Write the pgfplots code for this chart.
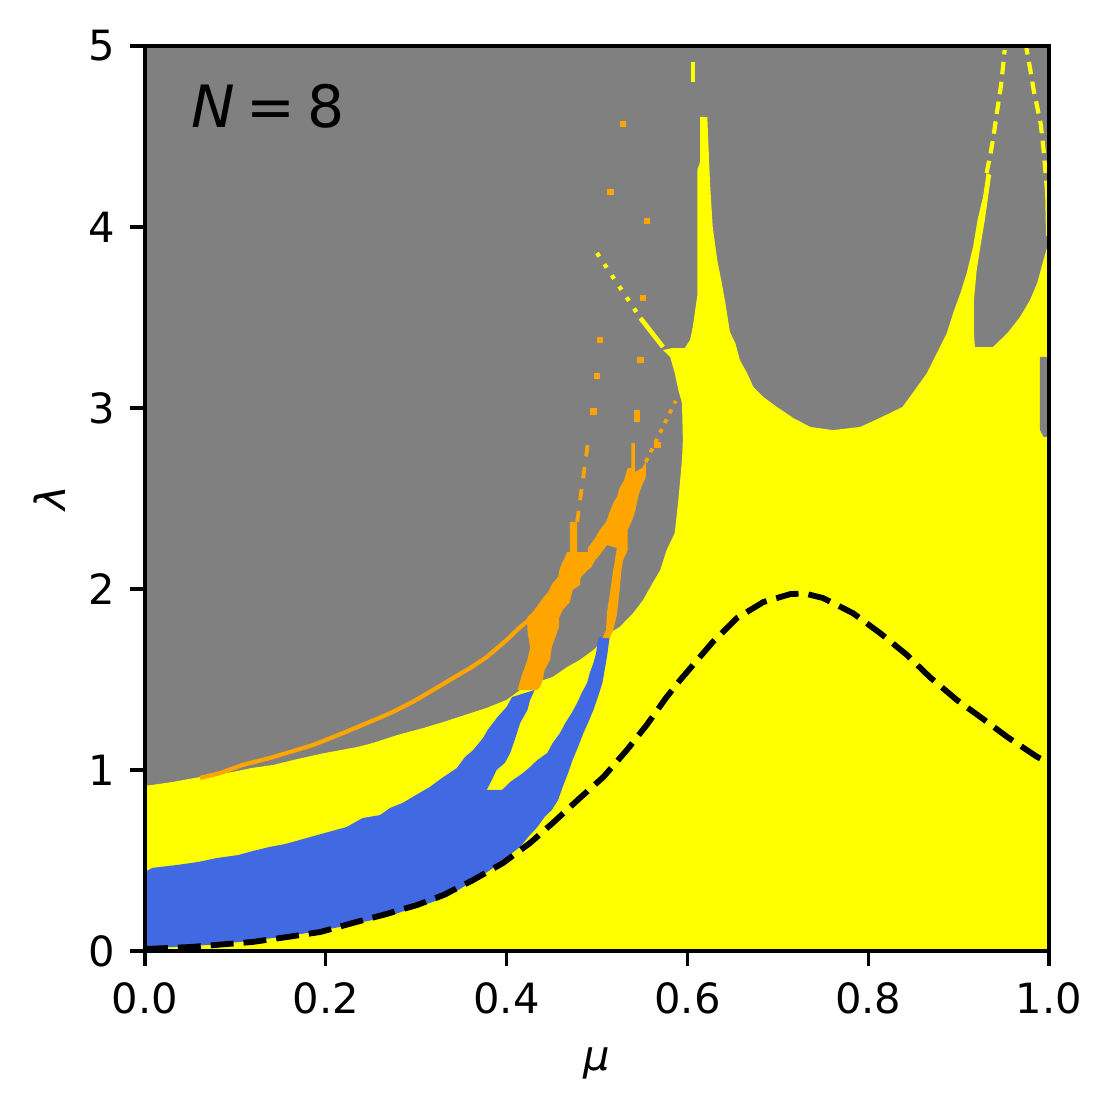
\documentclass[border=0pt]{standalone}
\usepackage{fontspec}
\setmainfont{DejaVu Sans}
\usepackage{pgfplots}
\pgfplotsset{compat=1.18}
\definecolor{mgray}{RGB}{128,128,128}
\definecolor{myellow}{RGB}{255,255,0}
\definecolor{mblue}{RGB}{65,105,225}
\definecolor{morange}{RGB}{255,165,0}
\begin{document}
\begin{tikzpicture}
\begin{axis}[
  scale only axis, width=216.96pt, height=217.2pt,
  xmin=0, xmax=1, ymin=0, ymax=5,
  axis background/.style={fill=mgray},
  axis on top,
  xtick={0,0.2,0.4,0.6,0.8,1},
  xticklabels={0.0,0.2,0.4,0.6,0.8,1.0},
  ytick={0,1,2,3,4,5},
  yticklabels={0,1,2,3,4,5},
  tick align=outside, major tick length=3.5pt,
  xtick pos=left, ytick pos=left,
  every tick/.style={black, line width=0.8pt},
  axis line style={line width=0.8pt},
  ticklabel style={font=\fontsize{10}{12}\selectfont},
  xticklabel style={anchor=north, inner sep=0pt, yshift=-3.8pt},
  yticklabel style={anchor=east, inner sep=0pt, xshift=-3.6pt},
  xlabel={\textit{μ}}, ylabel={\textit{λ}},
  label style={font=\fontsize{10}{12}\selectfont},
  xlabel style={at={(axis description cs:0.5,-0.106)}, anchor=north, inner sep=0pt},
  ylabel style={at={(axis description cs:-0.105,0.5)}, anchor=center, inner sep=0pt},
  unbounded coords=jump,
]
% yellow region
\addplot[fill=myellow, draw=none] coordinates {
(0,0) (0,0.912) (0.031,0.934) (0.055,0.956) (0.075,0.972) (0.097,0.989) (0.118,1.011)
(0.142,1.028) (0.164,1.055) (0.179,1.072) (0.199,1.094) (0.235,1.127) (0.252,1.149)
(0.279,1.193) (0.308,1.232) (0.330,1.265) (0.354,1.304) (0.378,1.343) (0.400,1.387)
(0.415,1.442) (0.434,1.486) (0.451,1.514) (0.467,1.569) (0.481,1.608) (0.496,1.663)
(0.507,1.718) (0.514,1.757) (0.525,1.790) (0.540,1.867) (0.551,1.939) (0.559,2.011)
(0.570,2.105) (0.577,2.215) (0.586,2.309) (0.590,2.492) (0.594,2.713) (0.595,2.823)
(0.594,3.028) (0.590,3.099) (0.586,3.193) (0.581,3.282) (0.573,3.320) (0.583,3.331)
(0.597,3.331) (0.603,3.376) (0.606,3.448) (0.611,3.624) (0.611,4.315) (0.614,4.359)
(0.614,4.608) (0.622,4.608) (0.625,4.243) (0.628,4.000) (0.633,3.818) (0.638,3.691)
(0.642,3.580) (0.647,3.420) (0.653,3.359) (0.658,3.265) (0.666,3.193) (0.673,3.116)
(0.684,3.061) (0.699,3.006) (0.717,2.945) (0.736,2.895) (0.761,2.878) (0.791,2.895)
(0.813,2.945) (0.838,3.006) (0.854,3.116) (0.865,3.193) (0.876,3.304) (0.887,3.414)
(0.894,3.525) (0.902,3.635) (0.909,3.746) (0.916,3.890) (0.921,4.039) (0.927,4.166)
(0.931,4.298) (0.936,4.287) (0.929,4.039) (0.924,3.890) (0.920,3.762) (0.917,3.597)
(0.917,3.414) (0.918,3.337) (0.938,3.337) (0.954,3.414) (0.968,3.503) (0.979,3.597)
(0.987,3.691) (0.993,3.801) (0.998,3.890) (1,3.983) (1,0)
};
% gray strip at the right edge
\addplot[fill=mgray, draw=none] coordinates {
(0.990,3.282) (1,3.282) (1,2.840) (0.994,2.840) (0.990,2.880)
};
% thin yellow strands
\addplot[myellow, line width=1pt, dash pattern=on 3pt off 1.8pt] coordinates {
(0.931,4.298) (0.935,4.398) (0.938,4.481) (0.942,4.619) (0.947,4.785) (0.951,4.978)
};
\addplot[myellow, line width=1pt, dash pattern=on 3pt off 1.8pt] coordinates {
(0.998,4.188) (0.994,4.425) (0.991,4.564) (0.987,4.663) (0.983,4.757) (0.979,4.878) (0.975,4.989)
};
\addplot[myellow, line width=1pt] coordinates {(0.998,4.188) (0.999,3.95)};
\addplot[myellow, line width=0.9pt] coordinates {(0.606,4.911) (0.606,4.801)};
\addplot[myellow, line width=1pt, dash pattern=on 1pt off 2.2pt] coordinates {
(0.500,3.856) (0.548,3.497)
};
\addplot[myellow, line width=1.1pt] coordinates {(0.548,3.497) (0.573,3.337)};
% blue region
\addplot[fill=mblue, draw=none] coordinates {
(0,0.436) (0.008,0.459) (0.035,0.475) (0.059,0.492) (0.080,0.514) (0.103,0.530)
(0.119,0.552) (0.138,0.575) (0.155,0.591) (0.171,0.613) (0.183,0.630) (0.199,0.652)
(0.223,0.685) (0.241,0.735) (0.260,0.751) (0.271,0.790) (0.285,0.818) (0.296,0.851)
(0.315,0.906) (0.330,0.961) (0.345,1.011) (0.354,1.072) (0.363,1.110) (0.374,1.177)
(0.379,1.221) (0.390,1.293) (0.400,1.348) (0.406,1.403) (0.431,1.442) (0.426,1.387)
(0.423,1.331) (0.415,1.260) (0.409,1.166) (0.404,1.094) (0.398,1.039) (0.389,1.000)
(0.382,0.928) (0.378,0.890) (0.395,0.890) (0.404,0.934) (0.418,0.983) (0.426,1.017)
(0.434,1.055) (0.445,1.094) (0.451,1.149) (0.459,1.204) (0.465,1.260) (0.472,1.315)
(0.478,1.370) (0.483,1.425) (0.489,1.481) (0.492,1.536) (0.496,1.591) (0.499,1.646)
(0.501,1.718) (0.503,1.735) (0.514,1.735) (0.511,1.624) (0.506,1.481) (0.501,1.403)
(0.496,1.331) (0.490,1.260) (0.485,1.204) (0.479,1.127) (0.473,1.055) (0.468,0.983)
(0.462,0.906) (0.457,0.834) (0.450,0.779) (0.442,0.740) (0.434,0.685) (0.424,0.630)
(0.415,0.575) (0.406,0.541) (0.396,0.503) (0.385,0.459) (0.371,0.409) (0.352,0.354)
(0.334,0.298) (0.315,0.265) (0.290,0.227) (0.268,0.188) (0.241,0.160) (0.216,0.133)
(0.179,0.099) (0.142,0.072) (0.105,0.050) (0.069,0.033) (0.031,0.022) (0,0.017)
};
% orange region
\addplot[fill=morange, draw=none] coordinates {
(0.412,1.442) (0.417,1.525) (0.423,1.608) (0.426,1.674) (0.423,1.773) (0.423,1.845)
(0.429,1.873) (0.435,1.912) (0.440,1.950) (0.446,1.983) (0.451,2.033) (0.457,2.066)
(0.459,2.116) (0.462,2.149) (0.467,2.204) (0.470,2.204) (0.470,2.370) (0.478,2.370)
(0.478,2.204) (0.490,2.204) (0.490,2.227) (0.498,2.282) (0.503,2.326) (0.510,2.370)
(0.514,2.425) (0.518,2.475) (0.522,2.508) (0.525,2.558) (0.530,2.602) (0.534,2.669)
(0.538,2.669) (0.538,2.807) (0.542,2.807) (0.542,2.646) (0.550,2.669) (0.554,2.702)
(0.554,2.619) (0.550,2.575) (0.546,2.519) (0.542,2.425) (0.539,2.381) (0.534,2.326)
(0.534,2.215) (0.529,2.160) (0.527,2.105) (0.525,1.994) (0.522,1.856) (0.518,1.773)
(0.514,1.729) (0.506,1.729) (0.510,1.773) (0.511,1.867) (0.514,1.967) (0.518,2.105)
(0.522,2.227) (0.511,2.243) (0.503,2.188) (0.498,2.160) (0.494,2.122) (0.490,2.105)
(0.482,2.066) (0.481,2.022) (0.473,1.994) (0.470,1.928) (0.462,1.884) (0.458,1.840)
(0.458,1.790) (0.454,1.735) (0.450,1.680) (0.448,1.608) (0.442,1.552) (0.440,1.497)
(0.437,1.459) (0.434,1.442)
};
% thin orange line on the left
\addplot[morange, line width=1pt] coordinates {
(0.061,0.956) (0.083,0.983) (0.108,1.028) (0.138,1.066) (0.160,1.099) (0.186,1.138)
(0.219,1.204) (0.246,1.260) (0.274,1.320) (0.296,1.376) (0.315,1.431) (0.337,1.497)
(0.360,1.564) (0.378,1.624) (0.400,1.718) (0.415,1.790) (0.425,1.830)
};
% orange dashes above the finger
\addplot[morange, line width=0.9pt, dash pattern=on 2.7pt off 2.6pt] coordinates {(0.478,2.370) (0.491,2.845)};
\addplot[morange, line width=0.9pt, dash pattern=on 1pt off 1.6pt] coordinates {(0.554,2.702) (0.587,3.039)};
% orange dots
\addplot[only marks, mark=square*, mark size=0.55pt, color=morange] coordinates {
(0.515,4.193) (0.555,4.033) (0.529,4.569) (0.500,3.177) (0.503,3.376) (0.551,3.608)
(0.548,3.265) (0.544,2.972) (0.544,2.94) (0.496,2.98) (0.567,2.796)
};
% dashed black curve
\addplot[black, line width=1.4pt, dash pattern=on 5.5pt off 2.4pt] coordinates {
(0,0.011) (0.05,0.022) (0.119,0.050) (0.157,0.077) (0.194,0.105) (0.230,0.155)
(0.263,0.199) (0.301,0.254) (0.330,0.309) (0.363,0.392) (0.396,0.486) (0.426,0.597)
(0.451,0.707) (0.481,0.845) (0.507,0.961) (0.533,1.110) (0.555,1.249) (0.577,1.403)
(0.592,1.497) (0.628,1.707) (0.655,1.840) (0.684,1.928) (0.714,1.972) (0.730,1.975)
(0.750,1.950) (0.783,1.867) (0.813,1.757) (0.843,1.635) (0.868,1.514) (0.898,1.387)
(0.924,1.293) (0.954,1.182) (0.987,1.072) (1,1.040)
};
\node[anchor=base west, inner sep=0pt, font=\fontsize{14}{16}\selectfont] at (axis cs:0.05,4.547) {\textit{N}\hspace{2.9pt}=\hspace{2.9pt}8};
\end{axis}
\path ([shift={(-34.8pt,-38.64pt)}]current axis.south west) rectangle ([shift={(15.36pt,11.04pt)}]current axis.north east);
\end{tikzpicture}
\end{document}
